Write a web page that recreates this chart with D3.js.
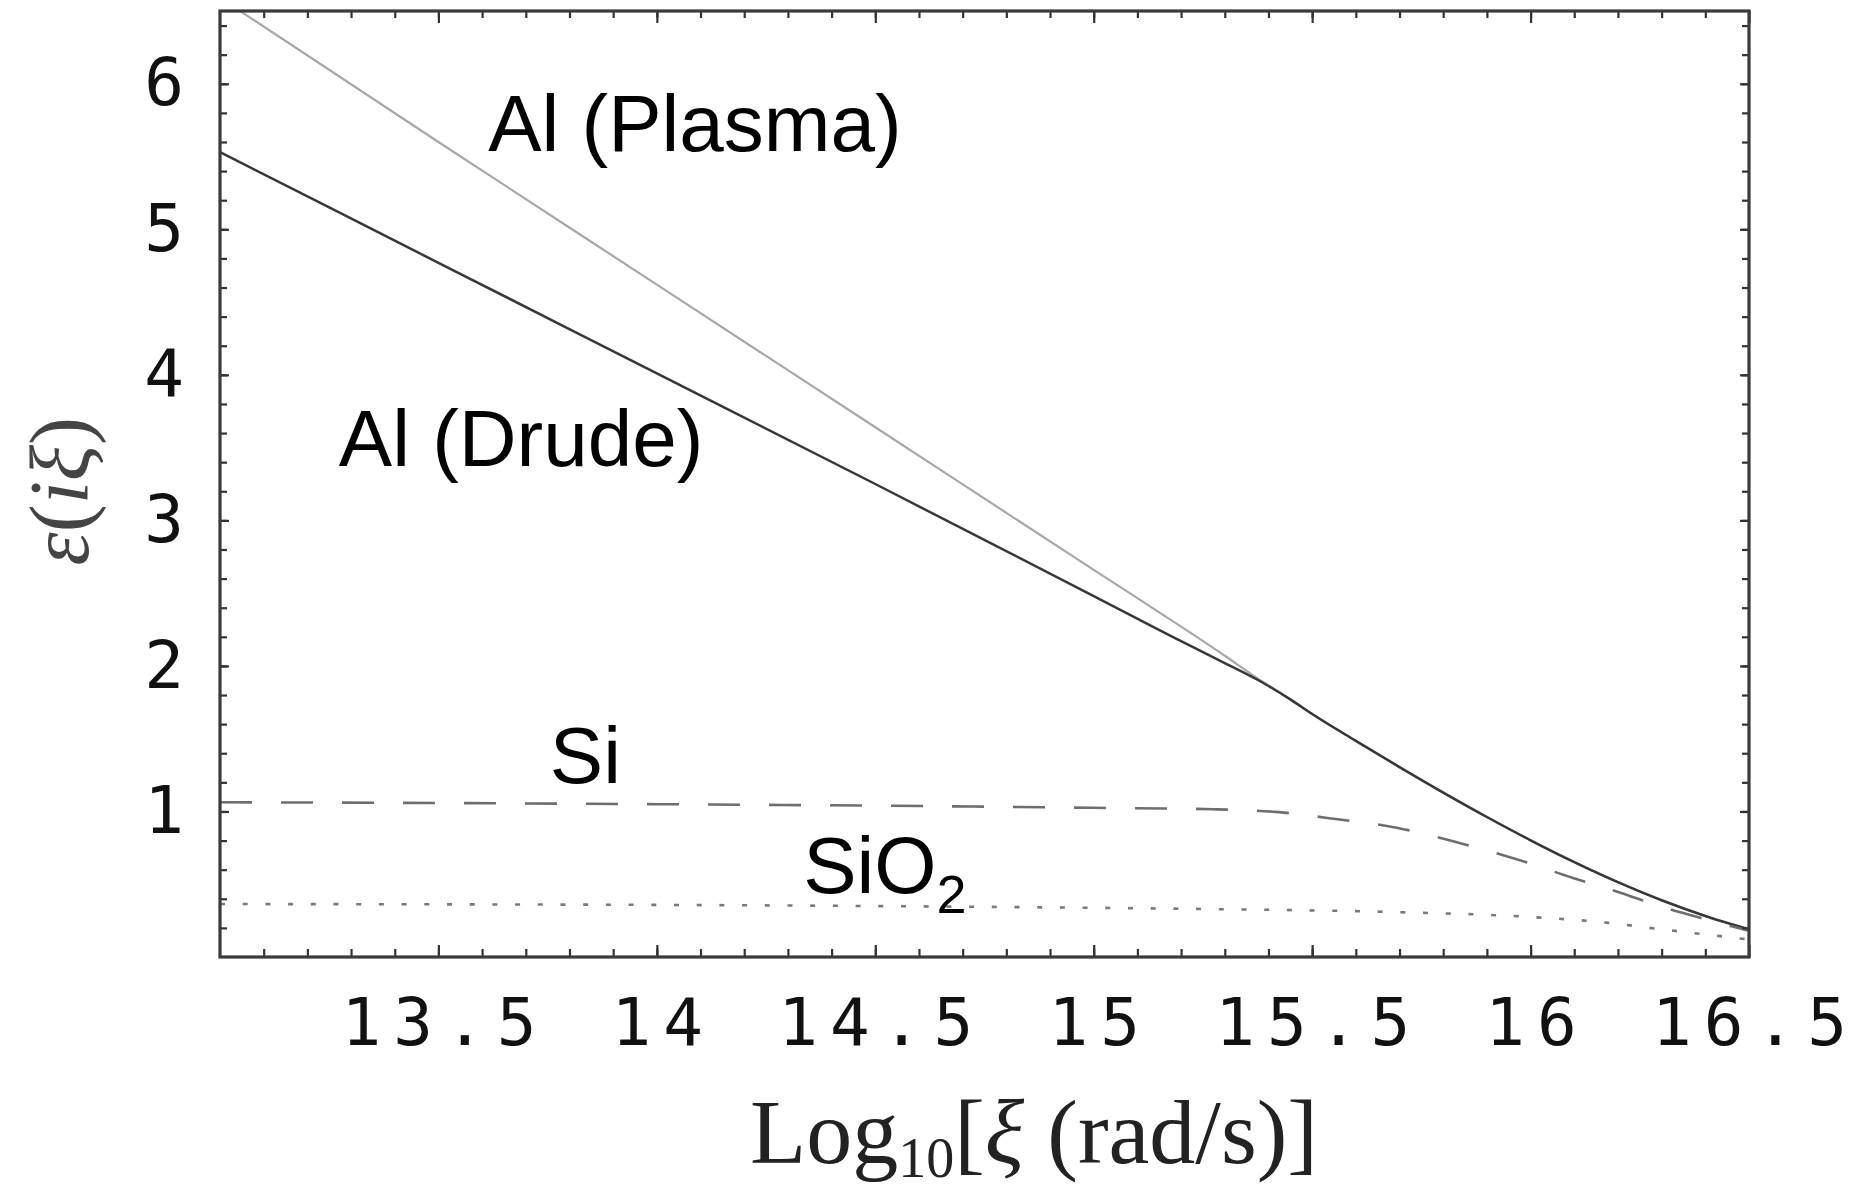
<!DOCTYPE html>
<html>
<head>
<meta charset="utf-8">
<script src="https://cdn.jsdelivr.net/npm/d3@7"></script>
<style>
  html, body { margin: 0; padding: 0; background: #fff; }
  svg { display: block; }
</style>
</head>
<body>
<div id="chart"></div>
<script>
// Values (x = Log10 of xi, y = epsilon)
const plasmaX = [13.046, 13.5, 14.0, 14.5, 15.0, 15.2, 15.3, 15.375, 15.45, 15.5, 15.6, 15.7, 15.8, 15.9, 16.0, 16.1, 16.2, 16.3, 16.4, 16.5];
const plasmaY = [6.5, 5.6, 4.62, 3.64, 2.66, 2.27, 2.07, 1.915, 1.77, 1.67, 1.485, 1.305, 1.13, 0.962, 0.802, 0.652, 0.514, 0.39, 0.282, 0.19];

const drudeX = [13.0, 13.5, 14.0, 14.5, 15.0, 15.2, 15.3, 15.375, 15.45, 15.5, 15.6, 15.7, 15.8, 15.9, 16.0, 16.1, 16.2, 16.3, 16.4, 16.5];
const drudeY = [5.53, 4.77, 4.01, 3.25, 2.48, 2.17, 2.02, 1.905, 1.77, 1.67, 1.485, 1.305, 1.13, 0.962, 0.802, 0.652, 0.514, 0.39, 0.282, 0.19];

const siX = [13.0, 13.5, 14.0, 14.5, 15.0, 15.274, 15.416, 15.554, 15.696, 15.829, 15.966, 16.097, 16.207, 16.3, 16.4, 16.5];
const siY = [1.063, 1.058, 1.05, 1.04, 1.025, 1.015, 0.997, 0.948, 0.887, 0.79, 0.674, 0.543, 0.44, 0.345, 0.26, 0.18];

const sio2X = [13.0, 13.5, 14.0, 14.5, 15.0, 15.3, 15.687, 16.0, 16.161, 16.3, 16.4, 16.5];
const sio2Y = [0.364, 0.362, 0.358, 0.35, 0.338, 0.328, 0.309, 0.275, 0.24, 0.19, 0.155, 0.12];

// Tick labels
const xTickLabels = [13.5, 14, 14.5, 15, 15.5, 16, 16.5];
const yTickLabels = [1, 2, 3, 4, 5, 6];

// Curve annotations, placed in data coordinates
const annotations = [
  { text: "Al (Plasma)", x: 13.614, y: 5.54 },
  { text: "Al (Drude)", x: 13.272, y: 3.375 },
  { text: "Si", x: 13.755, y: 1.195 },
];

// Canvas size and plot frame
const width = 1863;
const height = 1191;
const margin = { top: 11, right: 114, bottom: 234, left: 220 };

const svg = d3.select("#chart")
  .append("svg")
  .attr("width", width)
  .attr("height", height)
  .style("background", "#fff");

const x = d3.scaleLinear()
  .domain([13, 16.5])
  .range([margin.left, width - margin.right]);

const y = d3.scaleLinear()
  .domain([0, 6.5])
  .range([height - margin.bottom, margin.top]);

// Build series from the arrays
const series = [
  { xs: plasmaX, ys: plasmaY, color: "#a8a8a8", width: 2.2, dash: null },
  { xs: drudeX, ys: drudeY, color: "#383838", width: 2.5, dash: null },
  { xs: siX, ys: siY, color: "#6e6e6e", width: 2.6, dash: "32 29" },
  { xs: sio2X, ys: sio2Y, color: "#7a7a7a", width: 2.6, dash: "5 17.7" },
];

const line = d3.line()
  .x((d) => x(d[0]))
  .y((d) => y(d[1]))
  .curve(d3.curveMonotoneX);

// Clip lines to the frame
svg.append("clipPath")
  .attr("id", "plot-clip")
  .append("rect")
  .attr("x", x.range()[0])
  .attr("y", y.range()[1])
  .attr("width", x.range()[1] - x.range()[0])
  .attr("height", y.range()[0] - y.range()[1]);

const lines = svg.append("g").attr("clip-path", "url(#plot-clip)");

for (const s of series) {
  const points = s.xs.map((v, i) => [v, s.ys[i]]);
  lines.append("path")
    .datum(points)
    .attr("fill", "none")
    .attr("stroke", s.color)
    .attr("stroke-width", s.width)
    .attr("stroke-dasharray", s.dash)
    .attr("d", line);
}

// Minor and major tick positions
const xMinor = d3.range(131, 165).map((v) => v / 10);
const yMinor = d3.range(1, 33).map((v) => v / 5);

const tickFont = "'DejaVu Sans Mono', monospace";
const xBottom = height - margin.bottom;
const xTop = margin.top;
const yLeft = margin.left;
const yRight = width - margin.right;

// Helper: add an inward-ticked axis, no domain line
function addAxis(axis, transform) {
  const g = svg.append("g").attr("transform", transform).call(axis);
  g.select(".domain").remove();
  g.selectAll(".tick line").attr("stroke", "#333").attr("stroke-width", 2.2);
  return g;
}

// Bottom
addAxis(d3.axisBottom(x).tickValues(xMinor).tickSize(-8).tickFormat(""), `translate(0,${xBottom})`);
const bottomMajor = addAxis(
  d3.axisBottom(x).tickValues(xTickLabels).tickSize(-12).tickPadding(41).tickFormat((d) => d),
  `translate(0,${xBottom})`
);
bottomMajor.selectAll("text")
  .attr("font-family", tickFont)
  .attr("font-size", 66)
  .attr("letter-spacing", 12)
  .attr("dx", 6)
  .attr("fill", "#111");

// Top
addAxis(d3.axisTop(x).tickValues(xMinor).tickSize(-7).tickFormat(""), `translate(0,${xTop})`);
addAxis(d3.axisTop(x).tickValues(xTickLabels).tickSize(-12).tickFormat(""), `translate(0,${xTop})`);

// Left
addAxis(d3.axisLeft(y).tickValues(yMinor).tickSize(-7).tickFormat(""), `translate(${yLeft},0)`);
const leftMajor = addAxis(
  d3.axisLeft(y).tickValues(yTickLabels).tickSize(-9).tickPadding(36).tickFormat((d) => d),
  `translate(${yLeft},0)`
);
leftMajor.selectAll("text")
  .attr("font-family", tickFont)
  .attr("font-size", 66)
  .attr("fill", "#111");

// Right
addAxis(d3.axisRight(y).tickValues(yMinor).tickSize(-7).tickFormat(""), `translate(${yRight},0)`);
addAxis(d3.axisRight(y).tickValues(yTickLabels).tickSize(-9).tickFormat(""), `translate(${yRight},0)`);

// Frame
svg.append("rect")
  .attr("x", x.range()[0])
  .attr("y", y.range()[1])
  .attr("width", x.range()[1] - x.range()[0])
  .attr("height", y.range()[0] - y.range()[1])
  .attr("fill", "none")
  .attr("stroke", "#3a3a3a")
  .attr("stroke-width", 3.2);

// Curve labels
const labelFont = "'Liberation Sans', Arial, sans-serif";
for (const a of annotations) {
  svg.append("text")
    .attr("x", x(a.x))
    .attr("y", y(a.y))
    .attr("font-family", labelFont)
    .attr("font-size", 80)
    .attr("fill", "#000")
    .text(a.text);
}

// SiO2 label with subscript
const sio2Label = svg.append("text")
  .attr("x", x(14.335))
  .attr("y", y(0.44))
  .attr("font-family", labelFont)
  .attr("font-size", 80)
  .attr("fill", "#000");
sio2Label.append("tspan").text("SiO");
sio2Label.append("tspan").attr("font-size", 54).attr("dy", 20).text("2");

// Axis titles (serif, TraditionalForm look)
const serif = "'Liberation Serif', 'Times New Roman', serif";

const xTitle = svg.append("text")
  .attr("x", 750)
  .attr("y", 1163)
  .attr("font-family", serif)
  .attr("font-size", 92)
  .attr("fill", "#222");
xTitle.append("tspan").text("Log");
xTitle.append("tspan").attr("font-size", 56).attr("dy", 14).text("10");
xTitle.append("tspan").attr("dy", -14).text("[");
xTitle.append("tspan").attr("font-style", "italic").text("ξ");
xTitle.append("tspan").text(" (rad/s)]");

const yTitle = svg.append("text")
  .attr("transform", `translate(88,${y(3.2)}) rotate(-90)`)
  .attr("text-anchor", "middle")
  .attr("font-family", serif)
  .attr("font-size", 84)
  .attr("fill", "#444");
yTitle.append("tspan").attr("font-style", "italic").text("ε");
yTitle.append("tspan").text("(");
yTitle.append("tspan").attr("font-style", "italic").text("iξ");
yTitle.append("tspan").text(")");
</script>
</body>
</html>
